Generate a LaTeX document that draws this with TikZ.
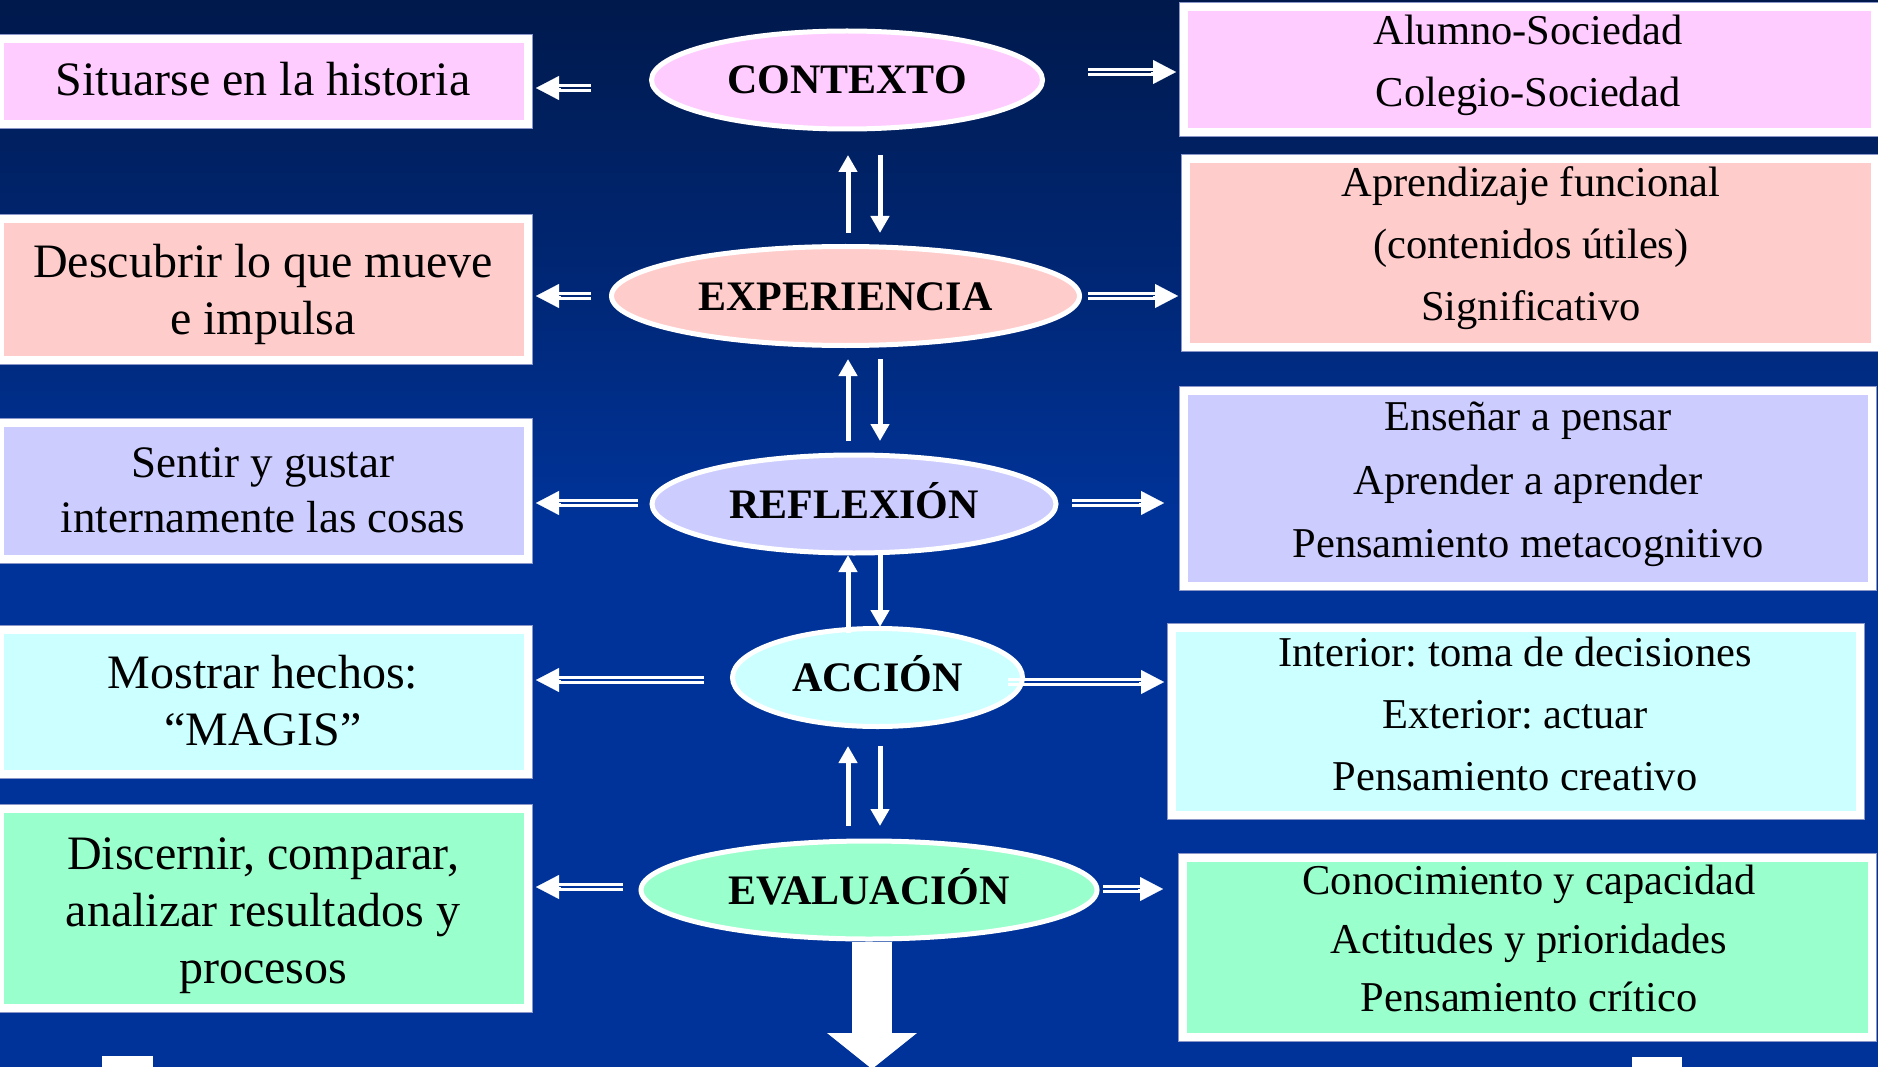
\documentclass[tikz,border=0pt]{standalone}
\usepackage{fontspec}
\setmainfont{Liberation Serif}
\usetikzlibrary{arrows.meta,shapes.geometric,calc}
\definecolor{bgtop}{HTML}{00194C}
\definecolor{bgbot}{HTML}{003399}
\definecolor{cpink}{HTML}{FFCCFF}
\definecolor{csalmon}{HTML}{FFCCCC}
\definecolor{clav}{HTML}{CCCCFF}
\definecolor{ccyan}{HTML}{CCFFFF}
\definecolor{cmint}{HTML}{99FFCC}
\definecolor{edgegrey}{HTML}{8A96C8}
\newcommand\harrow[3]{%
  \draw[dline,shorten >=12pt,transform canvas={yshift=2.7pt}] (#1) -- (#2);
  \draw[dline,shorten >=12pt,transform canvas={yshift=-2.7pt}] (#1) -- (#2);
  \draw[hhead] ($(#2)+(#3*-25,0)$) -- (#2);
}
\frenchspacing
\begin{document}
\frenchspacing
\begin{tikzpicture}[x=1pt,y=-1pt,
  box/.style={draw=white, line width=8pt, inner sep=0pt,
    preaction={draw=edgegrey, line width=10pt}},
  ell/.style={ellipse, draw=white, line width=5pt, inner sep=0pt,
    font=\fontsize{42}{50}\selectfont\bfseries, text height=28pt, text depth=0pt},
  ltext/.style={align=center, inner sep=0pt, font=\fontsize{48}{57}\selectfont},
  rtext/.style={align=center, inner sep=0pt, font=\fontsize{42.5}{62}\selectfont},
  dline/.style={draw=white, line width=2.6pt},
  hhead/.style={draw=white, line width=0.1pt, -{Triangle[length=23pt,width=24pt]}},
  varrow/.style={draw=white, line width=5pt, -{Triangle[length=17pt,width=18pt]}},
  bigarrow/.style={draw=white, line width=40pt, -{Triangle[length=36pt,width=88pt]}}
]
\useasboundingbox (0,0) rectangle (1878,1067);
\fill[bgbot] (0,0) rectangle (1878,1067);
\shade[top color=bgtop, bottom color=bgbot] (0,0) rectangle (1878,520);

% left boxes
\node[box, fill=cpink,   minimum width=528pt, minimum height=85pt]  (b1) at (264,81.5) {};
\node[box, fill=csalmon, minimum width=528pt, minimum height=141pt] (b2) at (264,289.5) {};
\node[box, fill=clav,    minimum width=528pt, minimum height=136pt] (b3) at (264,491) {};
\node[box, fill=ccyan,   minimum width=528pt, minimum height=144pt] (b4) at (264,702) {};
\node[box, fill=cmint,   minimum width=528pt, minimum height=199pt] (b5) at (264,908.5) {};

% right boxes
\node[box, fill=cpink,   minimum width=691pt, minimum height=125pt] (r1) at (1529.5,69.5) {};
\node[box, fill=csalmon, minimum width=689pt, minimum height=188pt] (r2) at (1530.5,253) {};
\node[box, fill=clav,    minimum width=688pt, minimum height=195pt] (r3) at (1528,488.5) {};
\node[box, fill=ccyan,   minimum width=688pt, minimum height=187pt] (r4) at (1516,721.5) {};
\node[box, fill=cmint,   minimum width=689pt, minimum height=179pt] (r5) at (1527.5,947.5) {};

% left texts
\node[ltext] (t1) at (263,79.4) {Situarse en la historia};
\node[ltext] (t2) at (263,294.4) {Descubrir lo que mueve\\e impulsa};
\node[ltext, font=\fontsize{45}{55}\selectfont] (t3) at (263,490) {Sentir y gustar\\internamente las cosas};
\node[ltext] (t4) at (263,701) {Mostrar hechos:\\“MAGIS”};
\node[ltext] (t5) at (263,916) {Discernir, comparar,\\analizar resultados y\\procesos};

% right texts
\node[rtext] (s1) at (1528,65.4) {Alumno-Sociedad\\Colegio-Sociedad};
\node[rtext] (s2) at (1531,248.4) {Aprendizaje funcional\\(contenidos útiles)\\Significativo};
\node[rtext, font=\fontsize{42.5}{63.5}\selectfont] (s3) at (1528,484.4) {Enseñar a pensar\\Aprender a aprender\\Pensamiento metacognitivo};
\node[rtext] (s4) at (1515,713.6) {Interior: toma de decisiones\\Exterior: actuar\\Pensamiento creativo};
\node[rtext, font=\fontsize{42.5}{58.5}\selectfont] (s5) at (1529,938.6) {Conocimiento y capacidad\\Actitudes y prioridades\\Pensamiento crítico};

% ellipses
\node[ell, fill=cpink,   minimum width=391pt, minimum height=98pt] (ctx) at (847,80) {CONTEXTO};
\node[ell, fill=csalmon, minimum width=468pt, minimum height=99pt] (exp) at (845.5,296) {EXPERIENCIA};
\node[ell, fill=clav,    minimum width=404pt, minimum height=98pt] (ref) at (854,504) {REFLEXIÓN};
\node[ell, fill=ccyan,   minimum width=290pt, minimum height=98pt] (acc) at (877.5,677.5) {ACCIÓN};
\node[ell, fill=cmint,   minimum width=456pt, minimum height=98pt] (eva) at (869,890) {EVALUACIÓN};

% horizontal double arrows
\coordinate (hl1) at (591,88);  \path (b1.east |- hl1) ++(4,0) coordinate (el1);
\coordinate (hr1) at (1088,72); \path (r1.west |- hr1) ++(-4,0) coordinate (er1);
\coordinate (hl2) at (591,296); \path (b2.east |- hl2) ++(4,0) coordinate (el2);
\coordinate (hr2) at (1088,296);\path (r2.west |- hr2) ++(-4,0) coordinate (er2);
\coordinate (hl3) at (638,503); \path (b3.east |- hl3) ++(4,0) coordinate (el3);
\coordinate (hr3) at (1072,503);\path (r3.west |- hr3) ++(-16,0) coordinate (er3);
\coordinate (hl4) at (704,680); \path (b4.east |- hl4) ++(4,0) coordinate (el4);
\coordinate (hr4) at (1008,682);\path (r4.west |- hr4) ++(-4,0) coordinate (er4);
\coordinate (hl5) at (623,887); \path (b5.east |- hl5) ++(4,0) coordinate (el5);
\coordinate (hr5) at (1103,889);\path (r5.west |- hr5) ++(-16,0) coordinate (er5);
\harrow{hl1}{el1}{-1}
\harrow{hr1}{er1}{1}
\harrow{hl2}{el2}{-1}
\harrow{hr2}{er2}{1}
\harrow{hl3}{el3}{-1}
\harrow{hr3}{er3}{1}
\harrow{hl4}{el4}{-1}
\harrow{hr4}{er4}{1}
\harrow{hl5}{el5}{-1}
\harrow{hr5}{er5}{1}

% vertical arrows
\foreach \i/\ya/\yb/\yc in {1/155/233/233, 2/359/441/441, 3/555/633/627, 4/746/826/826} {
  \coordinate (ua\i) at (848,\yb); \coordinate (ub\i) at (848,\ya);
  \coordinate (da\i) at (880,\ya); \coordinate (db\i) at (880,\yc);
  \draw[varrow] (ua\i) -- (ub\i);
  \draw[varrow] (da\i) -- (db\i);
}

% big arrow down
\coordinate (bigtip) at (872,1069);
\draw[bigarrow] ([xshift=3pt]eva.south) -- (bigtip);

% small white marks at the bottom
\fill[white] (102,1056) rectangle (153,1068);
\fill[white] (1632,1057) rectangle (1682,1068);
\end{tikzpicture}
\end{document}
